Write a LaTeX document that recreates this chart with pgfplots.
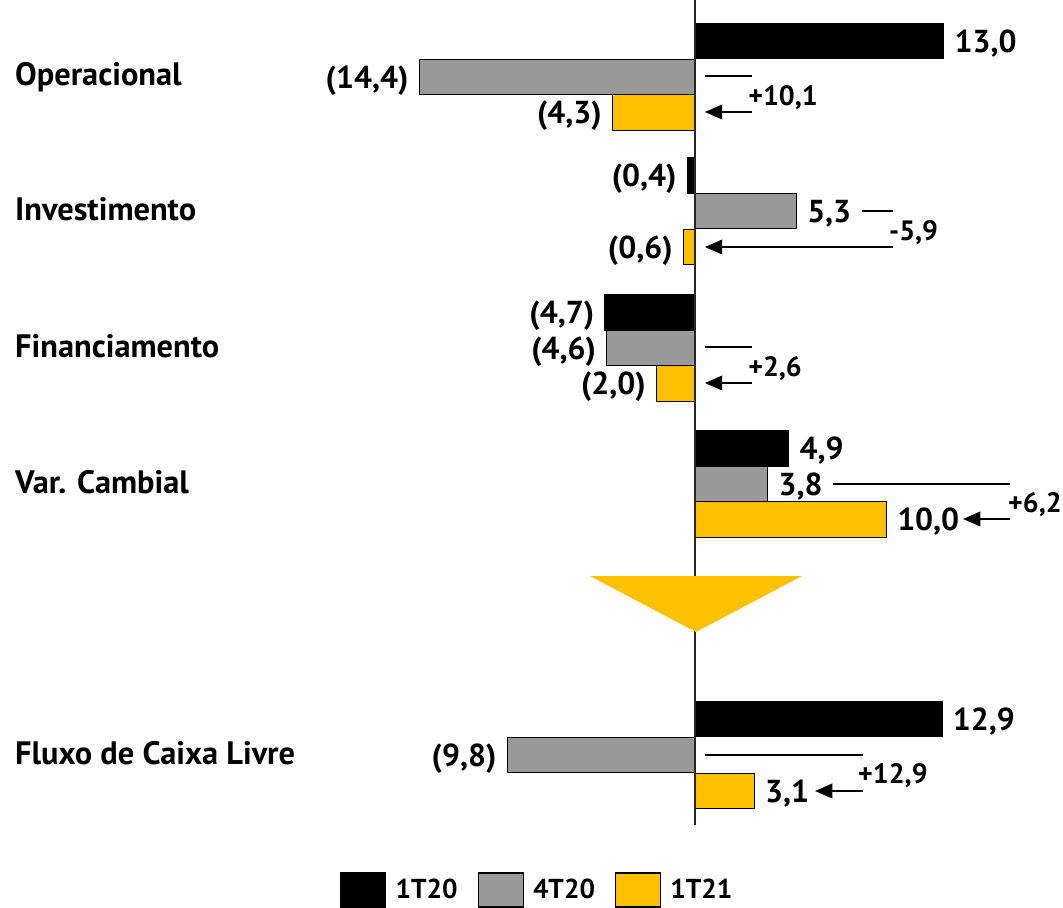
\documentclass[border=0pt]{standalone}
\usepackage{pgfplots}
\pgfplotsset{compat=1.18}
\usepackage{pgfplotstable}
\usepackage{fontspec}
\setmainfont{PT Sans}
\usetikzlibrary{arrows.meta}
\definecolor{goldc}{HTML}{FFC000}
\definecolor{grayc}{HTML}{999999}

\pgfplotstableread{
y x
41 13.0
175.5 -0.4
312.5 -4.7
448.5 4.9
719 12.9
}\blackdata
\pgfplotstableread{
y x
77 -14.4
211 5.3
348 -4.6
484 3.8
755 -9.8
}\graydata
\pgfplotstableread{
y x
112.5 -4.3
247 -0.6
383.5 -2.0
519.5 10.0
791 3.1
}\golddata

\begin{document}
\begin{tikzpicture}[
  lbl/.style={inner sep=0pt, text height=16.6pt, text depth=0pt, font=\fontsize{23.8}{28}\selectfont\bfseries},
  dlt/.style={inner sep=0pt, text height=15pt, text depth=0pt, anchor=west, font=\fontsize{21}{25}\selectfont\bfseries},
  cat/.style={inner sep=0pt, text height=16.6pt, text depth=0pt, anchor=west, font=\fontsize{24.3}{28}\selectfont\bfseries},
  conn/.style={line width=1.1pt, black},
  arr/.style={line width=1.3pt, black, -{Triangle[length=13pt,width=11pt]}},
]
\begin{axis}[
  width=797.25pt, height=680.25pt, scale only axis,
  xmin=-36.29, xmax=19.22, ymin=0, ymax=907, y dir=reverse,
  hide axis, clip=false,
  legend columns=3,
  legend style={draw=none, fill=none, inner sep=0pt, at={(axis cs:-18.54,890)}, anchor=west,
    font=\fontsize{20.5}{24}\selectfont\bfseries,
    /tikz/every odd column/.append style={column sep=5pt},
    /tikz/every even column/.append style={column sep=13pt}},
  legend image code/.code={\draw[#1] (0pt,-12.75pt) rectangle (33.75pt,12.75pt);},
]
\addplot[xbar, bar shift=0pt, bar width=35.7, fill=black, draw=black, line width=0.8pt] table[x=x,y=y] {\blackdata};
\addplot[xbar, bar shift=0pt, bar width=35.7, fill=grayc, draw=black, line width=0.8pt] table[x=x,y=y] {\graydata};
\addplot[xbar, bar shift=0pt, bar width=35.7, fill=goldc, draw=black, line width=0.8pt] table[x=x,y=y] {\golddata};
\legend{1T20,4T20,1T21}

% zero line
\addplot[forget plot, black!85, line width=1.1pt] coordinates {(0,0) (0,825)};
% triangle
\addplot[forget plot, fill=goldc, draw=none] coordinates {(-5.48,576) (5.59,576) (0.05,632)} -- cycle;

% category labels
\node[cat] at (axis cs:-35.51,74) {Operacional};
\node[cat] at (axis cs:-35.51,209) {Investimento};
\node[cat] at (axis cs:-35.51,346) {Financiamento};
\node[cat] at (axis cs:-35.51,482) {Var. Cambial};
\node[cat] at (axis cs:-35.51,753) {Fluxo de Caixa Livre};

% value labels
\node[lbl, anchor=west] at (axis cs:13.55,41) {13,0};
\node[lbl, anchor=west] at (axis cs:5.85,211) {5,3};
\node[lbl, anchor=west] at (axis cs:5.45,448.5) {4,9};
\node[lbl, anchor=west] at (axis cs:4.35,484) {3,8};
\node[lbl, anchor=west] at (axis cs:10.55,519.5) {10,0};
\node[lbl, anchor=west] at (axis cs:13.45,719) {12,9};
\node[lbl, anchor=west] at (axis cs:3.65,791) {3,1};
\node[lbl, anchor=east] at (axis cs:-14.95,77) {(14,4)};
\node[lbl, anchor=east] at (axis cs:-4.85,112.5) {(4,3)};
\node[lbl, anchor=east] at (axis cs:-0.95,175.5) {(0,4)};
\node[lbl, anchor=east] at (axis cs:-1.15,247) {(0,6)};
\node[lbl, anchor=east] at (axis cs:-5.25,312.5) {(4,7)};
\node[lbl, anchor=east] at (axis cs:-5.15,348) {(4,6)};
\node[lbl, anchor=east] at (axis cs:-2.55,383.5) {(2,0)};
\node[lbl, anchor=east] at (axis cs:-10.35,755) {(9,8)};

% deltas
\draw[conn] (axis cs:0.52,76) -- (axis cs:2.98,76);
\draw[arr] (axis cs:2.98,112) -- (axis cs:0.52,112);
\node[dlt] at (axis cs:2.77,95) {+10,1};
\draw[conn] (axis cs:8.72,211) -- (axis cs:10.34,211);
\draw[arr] (axis cs:10.34,247) -- (axis cs:0.52,247);
\node[dlt] at (axis cs:10.13,230) {-5,9};
\draw[conn] (axis cs:0.52,347) -- (axis cs:2.98,347);
\draw[arr] (axis cs:2.98,383) -- (axis cs:0.52,383);
\node[dlt] at (axis cs:2.77,366) {+2,6};
\draw[conn] (axis cs:7.21,484) -- (axis cs:16.45,484);
\draw[arr] (axis cs:16.45,519) -- (axis cs:14.0,519);
\node[dlt] at (axis cs:16.34,502) {+6,2};
\draw[conn] (axis cs:0.52,755) -- (axis cs:8.77,755);
\draw[arr] (axis cs:8.77,791) -- (axis cs:6.27,791);
\node[dlt] at (axis cs:8.51,773) {+12,9};
\end{axis}
\pgfresetboundingbox
\path (current axis.south west) rectangle (current axis.north east);
\end{tikzpicture}
\end{document}
